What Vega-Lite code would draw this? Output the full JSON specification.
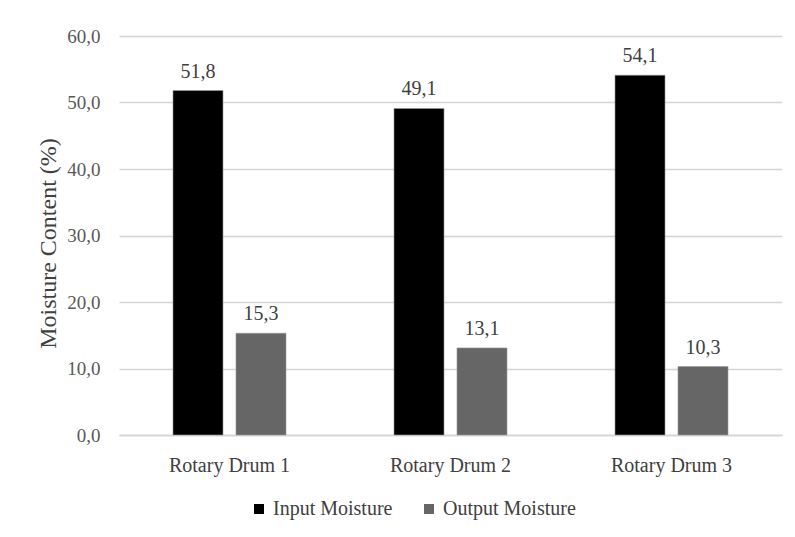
{
  "$schema": "https://vega.github.io/schema/vega-lite/v6.json",
  "width": 663,
  "height": 399,
  "autosize": {"type": "none"},
  "padding": {"left": 119, "top": 36, "right": 13, "bottom": 102},
  "background": "white",
  "config": {
    "view": {"stroke": null},
    "locale": {
      "number": {"decimal": ",", "thousands": ".", "grouping": [3], "currency": ["", " €"]}
    },
    "font": "Liberation Serif",
    "axis": {"labelFont": "Liberation Serif", "titleFont": "Liberation Serif"},
    "legend": {"labelFont": "Liberation Serif"},
    "text": {"font": "Liberation Serif"}
  },
  "data": {
    "values": [
      {"drum": "Rotary Drum 1", "series": "Input Moisture", "value": 51.8},
      {"drum": "Rotary Drum 1", "series": "Output Moisture", "value": 15.3},
      {"drum": "Rotary Drum 2", "series": "Input Moisture", "value": 49.1},
      {"drum": "Rotary Drum 2", "series": "Output Moisture", "value": 13.1},
      {"drum": "Rotary Drum 3", "series": "Input Moisture", "value": 54.1},
      {"drum": "Rotary Drum 3", "series": "Output Moisture", "value": 10.3}
    ]
  },
  "encoding": {
    "x": {
      "field": "drum",
      "type": "nominal",
      "scale": {"paddingInner": 0, "paddingOuter": 0},
      "axis": {
        "title": null,
        "labelAngle": 0,
        "labelFontSize": 20,
        "labelColor": "#404040",
        "labelPadding": 20,
        "ticks": false,
        "domain": true,
        "domainColor": "#d4d4d4",
        "domainWidth": 1.5
      }
    },
    "xOffset": {
      "field": "series",
      "type": "nominal",
      "scale": {"paddingInner": 0.206, "paddingOuter": 0.857}
    },
    "y": {
      "field": "value",
      "type": "quantitative",
      "scale": {"domain": [0, 60]},
      "axis": {
        "title": "Moisture Content (%)",
        "titleFontSize": 24,
        "titleFontWeight": "normal",
        "titleColor": "#404040",
        "titlePadding": 6,
        "titleY": 207,
        "values": [0, 10, 20, 30, 40, 50, 60],
        "format": ".1f",
        "labelOverlap": false,
        "labelFontSize": 19,
        "labelColor": "#595959",
        "labelPadding": 19,
        "ticks": false,
        "domain": false,
        "grid": true,
        "gridColor": "#d4d4d4",
        "gridWidth": 1.5
      }
    }
  },
  "layer": [
    {
      "mark": {"type": "bar", "stroke": "#9a9a9a", "strokeWidth": 0.6},
      "encoding": {
        "color": {
          "field": "series",
          "type": "nominal",
          "scale": {"domain": ["Input Moisture", "Output Moisture"], "range": ["#000000", "#666666"]},
          "legend": {
            "title": null,
            "orient": "none",
            "direction": "horizontal",
            "legendX": 130,
            "legendY": 463,
            "symbolType": "square",
            "symbolSize": 100,
            "symbolStrokeWidth": 0,
            "labelFontSize": 20,
            "labelColor": "#404040",
            "labelOffset": 4,
            "columnPadding": 26
          }
        }
      }
    },
    {
      "mark": {"type": "text", "baseline": "alphabetic", "dy": -13, "fontSize": 20, "color": "#404040"},
      "encoding": {
        "text": {"field": "value", "type": "quantitative", "format": ".1f"}
      }
    }
  ]
}
